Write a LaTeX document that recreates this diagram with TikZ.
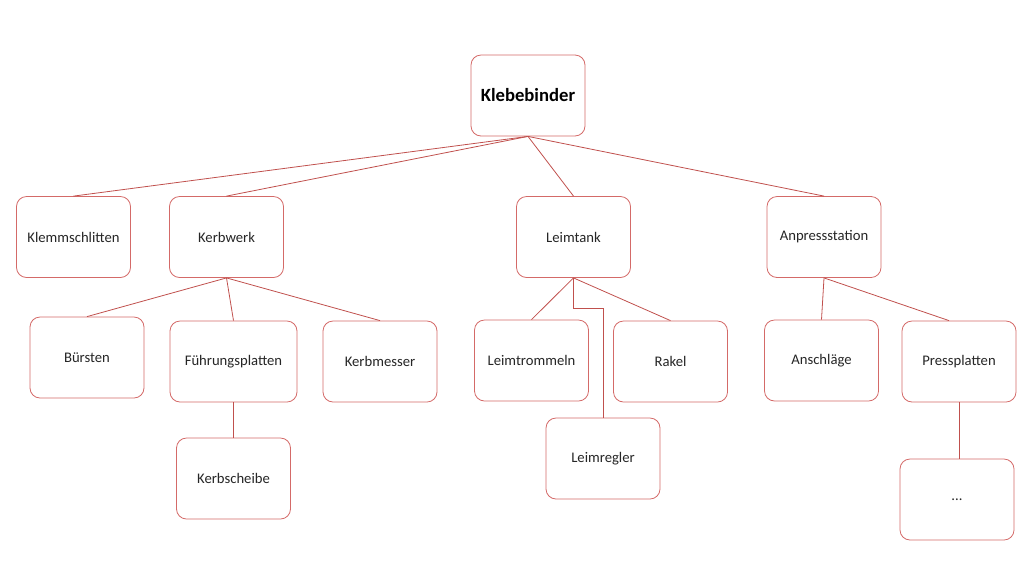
\documentclass[tikz,border=0pt]{standalone}
\usepackage{fontspec}
\setmainfont{Carlito}
\usetikzlibrary{calc}
\definecolor{lnred}{HTML}{C0504D}
\definecolor{bxred}{HTML}{D46A68}
\begin{document}
\begin{tikzpicture}[x=0.75pt,y=-0.75pt,
  bx/.style={draw=bxred,line width=0.6pt,rounded corners=7.5pt,fill=white,
    minimum width=85.5pt,minimum height=60.75pt,inner sep=0pt,
    font=\fontsize{11}{13}\selectfont,text=black!85},
  wide/.style={minimum width=95.25pt},
  conn/.style={draw=lnred,line width=0.6pt}]
\useasboundingbox (0,0) rectangle (1024,576);
\node[bx,font=\fontsize{14}{16}\selectfont\bfseries,text=black] (root) at (528,95.5) {Klebebinder};
\node[bx] (klemm) at (73.5,237) {Klemmschlitten};
\node[bx] (kerb) at (226.5,237) {Kerbwerk};
\node[bx] (leim) at (573.5,237) {Leimtank};
\node[bx] (anp) at (824,237) {Anpressstation};
\node[bx] (buer) at (87,357.5) {Bürsten};
\node[bx,wide] (fuehr) at (233.5,361.5) {Führungsplatten};
\node[bx] (kmesser) at (380,361.5) {Kerbmesser};
\node[bx] (ltrom) at (531.5,360.5) {Leimtrommeln};
\node[bx] (rakel) at (670.5,361.5) {Rakel};
\node[bx] (lregl) at (603,458.5) {Leimregler};
\node[bx] (ansch) at (821.5,360.5) {Anschläge};
\node[bx] (press) at (959,361.5) {Pressplatten};
\node[bx] (kscheibe) at (233.5,478.5) {Kerbscheibe};
\node[bx] (dots) at (957,499.5) {...};
% connectors
\draw[conn] (root.south) -- (klemm.north);
\draw[conn] (root.south) -- (kerb.north);
\draw[conn] (root.south) -- (leim.north);
\draw[conn] (root.south) -- (anp.north);
\draw[conn] (kerb.south) -- (buer.north);
\draw[conn] (kerb.south) -- (fuehr.north);
\draw[conn] (kerb.south) -- (kmesser.north);
\draw[conn] (fuehr.south) -- (kscheibe.north);
\draw[conn] (leim.south) -- (ltrom.north);
\draw[conn] (leim.south) -- (rakel.north);
\draw[conn] (leim.south) -- ++(0,30) -| (lregl.north);
\draw[conn] (anp.south) -- (ansch.north);
\draw[conn] (anp.south) -- ($(press.north)+(-10,0)$);
\draw[conn] (press.south) -- (press.south |- dots.north);
\end{tikzpicture}
\end{document}
